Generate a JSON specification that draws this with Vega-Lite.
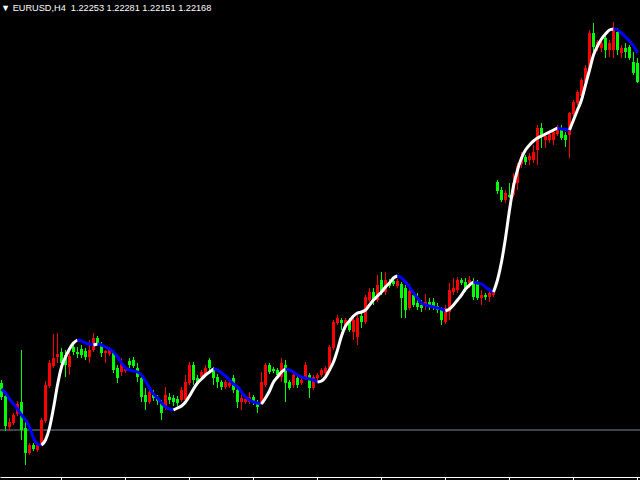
{
  "$schema": "https://vega.github.io/schema/vega-lite/v6.json",
  "width": 640,
  "height": 477,
  "autosize": {"type": "none"},
  "padding": {"left": 0, "right": 0, "top": 0, "bottom": 3},
  "background": "#000000",
  "config": {"view": {"stroke": null}},
  "title": {"text": "▼ EURUSD,H4\u00a0 1.22253 1.22281 1.22151 1.22168", "anchor": "start", "frame": "group", "orient": "top", "offset": -13, "font": "Liberation Sans", "fontSize": 9.2, "fontWeight": "normal", "color": "#FFFFFF", "baseline": "top", "dx": 1},
  "datasets": {
    "lvl": [{"p": 1.1850}],
    "bars": [
      {"i":0,"o":1.1897,"h":1.1900,"l":1.1880,"c":1.1883},
      {"i":1,"o":1.1884,"h":1.1887,"l":1.1849,"c":1.1854},
      {"i":2,"o":1.1853,"h":1.1862,"l":1.1849,"c":1.1858},
      {"i":3,"o":1.1857,"h":1.1867,"l":1.1855,"c":1.1865},
      {"i":4,"o":1.1866,"h":1.1879,"l":1.1864,"c":1.1876},
      {"i":5,"o":1.1878,"h":1.1930,"l":1.1840,"c":1.1850},
      {"i":6,"o":1.1852,"h":1.1862,"l":1.1815,"c":1.1827},
      {"i":7,"o":1.1827,"h":1.1837,"l":1.1825,"c":1.1835},
      {"i":8,"o":1.1835,"h":1.1837,"l":1.1829,"c":1.1831},
      {"i":9,"o":1.1830,"h":1.1837,"l":1.1828,"c":1.1835},
      {"i":10,"o":1.1837,"h":1.1862,"l":1.1834,"c":1.1860},
      {"i":11,"o":1.1859,"h":1.1899,"l":1.1857,"c":1.1895},
      {"i":12,"o":1.1894,"h":1.1920,"l":1.1892,"c":1.1917},
      {"i":13,"o":1.1914,"h":1.1946,"l":1.1912,"c":1.1922},
      {"i":14,"o":1.1923,"h":1.1947,"l":1.1917,"c":1.1926},
      {"i":15,"o":1.1928,"h":1.1932,"l":1.1915,"c":1.1917},
      {"i":16,"o":1.1925,"h":1.1930,"l":1.1903,"c":1.1915},
      {"i":17,"o":1.1913,"h":1.1928,"l":1.1905,"c":1.1924},
      {"i":18,"o":1.1933,"h":1.1936,"l":1.1925,"c":1.1928},
      {"i":19,"o":1.1928,"h":1.1933,"l":1.1922,"c":1.1926},
      {"i":20,"o":1.1931,"h":1.1935,"l":1.1922,"c":1.1925},
      {"i":21,"o":1.1929,"h":1.1932,"l":1.1920,"c":1.1923},
      {"i":22,"o":1.1923,"h":1.1940,"l":1.1917,"c":1.1930},
      {"i":23,"o":1.1930,"h":1.1947,"l":1.1928,"c":1.1942},
      {"i":24,"o":1.1942,"h":1.1944,"l":1.1935,"c":1.1937},
      {"i":25,"o":1.1936,"h":1.1938,"l":1.1923,"c":1.1927},
      {"i":26,"o":1.1927,"h":1.1930,"l":1.1917,"c":1.1929},
      {"i":27,"o":1.1926,"h":1.1933,"l":1.1924,"c":1.1930},
      {"i":28,"o":1.1927,"h":1.1930,"l":1.1907,"c":1.1910},
      {"i":29,"o":1.1912,"h":1.1915,"l":1.1897,"c":1.1902},
      {"i":30,"o":1.1908,"h":1.1922,"l":1.1904,"c":1.1917},
      {"i":31,"o":1.1909,"h":1.1914,"l":1.1907,"c":1.1912},
      {"i":32,"o":1.1919,"h":1.1922,"l":1.1912,"c":1.1915},
      {"i":33,"o":1.1920,"h":1.1923,"l":1.1912,"c":1.1914},
      {"i":34,"o":1.1912,"h":1.1917,"l":1.1898,"c":1.1903},
      {"i":35,"o":1.1902,"h":1.1906,"l":1.1878,"c":1.1883},
      {"i":36,"o":1.1885,"h":1.1892,"l":1.1870,"c":1.1878},
      {"i":37,"o":1.1878,"h":1.1892,"l":1.1876,"c":1.1888},
      {"i":38,"o":1.1887,"h":1.1890,"l":1.1879,"c":1.1882},
      {"i":39,"o":1.1883,"h":1.1885,"l":1.1875,"c":1.1879},
      {"i":40,"o":1.1877,"h":1.1880,"l":1.1860,"c":1.1867},
      {"i":41,"o":1.1872,"h":1.1893,"l":1.1870,"c":1.1885},
      {"i":42,"o":1.1883,"h":1.1887,"l":1.1876,"c":1.1880},
      {"i":43,"o":1.1882,"h":1.1885,"l":1.1874,"c":1.1878},
      {"i":44,"o":1.1881,"h":1.1884,"l":1.1874,"c":1.1877},
      {"i":45,"o":1.1880,"h":1.1893,"l":1.1878,"c":1.1890},
      {"i":46,"o":1.1880,"h":1.1905,"l":1.1878,"c":1.1898},
      {"i":47,"o":1.1897,"h":1.1918,"l":1.1895,"c":1.1915},
      {"i":48,"o":1.1915,"h":1.1918,"l":1.1895,"c":1.1900},
      {"i":49,"o":1.1902,"h":1.1905,"l":1.1895,"c":1.1898},
      {"i":50,"o":1.1903,"h":1.1910,"l":1.1900,"c":1.1908},
      {"i":51,"o":1.1905,"h":1.1915,"l":1.1903,"c":1.1912},
      {"i":52,"o":1.1920,"h":1.1922,"l":1.1908,"c":1.1912},
      {"i":53,"o":1.1910,"h":1.1913,"l":1.1895,"c":1.1902},
      {"i":54,"o":1.1903,"h":1.1906,"l":1.1892,"c":1.1898},
      {"i":55,"o":1.1898,"h":1.1900,"l":1.1890,"c":1.1893},
      {"i":56,"o":1.1893,"h":1.1900,"l":1.1891,"c":1.1898},
      {"i":57,"o":1.1894,"h":1.1899,"l":1.1892,"c":1.1897},
      {"i":58,"o":1.1902,"h":1.1905,"l":1.1887,"c":1.1890},
      {"i":59,"o":1.1890,"h":1.1892,"l":1.1872,"c":1.1878},
      {"i":60,"o":1.1878,"h":1.1888,"l":1.1870,"c":1.1882},
      {"i":61,"o":1.1878,"h":1.1884,"l":1.1876,"c":1.1881},
      {"i":62,"o":1.1878,"h":1.1888,"l":1.1876,"c":1.1883},
      {"i":63,"o":1.1883,"h":1.1885,"l":1.1875,"c":1.1877},
      {"i":64,"o":1.1878,"h":1.1880,"l":1.1867,"c":1.1873},
      {"i":65,"o":1.1877,"h":1.1908,"l":1.1875,"c":1.1898},
      {"i":66,"o":1.1895,"h":1.1917,"l":1.1893,"c":1.1915},
      {"i":67,"o":1.1915,"h":1.1917,"l":1.1906,"c":1.1908},
      {"i":68,"o":1.1911,"h":1.1913,"l":1.1907,"c":1.1909},
      {"i":69,"o":1.1910,"h":1.1912,"l":1.1903,"c":1.1905},
      {"i":70,"o":1.1903,"h":1.1922,"l":1.1898,"c":1.1917},
      {"i":71,"o":1.1915,"h":1.1920,"l":1.1878,"c":1.1897},
      {"i":72,"o":1.1898,"h":1.1900,"l":1.1890,"c":1.1892},
      {"i":73,"o":1.1895,"h":1.1908,"l":1.1892,"c":1.1905},
      {"i":74,"o":1.1902,"h":1.1904,"l":1.1892,"c":1.1895},
      {"i":75,"o":1.1897,"h":1.1902,"l":1.1895,"c":1.1900},
      {"i":76,"o":1.1902,"h":1.1918,"l":1.1900,"c":1.1915},
      {"i":77,"o":1.1905,"h":1.1907,"l":1.1882,"c":1.1892},
      {"i":78,"o":1.1892,"h":1.1905,"l":1.1890,"c":1.1903},
      {"i":79,"o":1.1902,"h":1.1907,"l":1.1900,"c":1.1905},
      {"i":80,"o":1.1905,"h":1.1912,"l":1.1903,"c":1.1910},
      {"i":81,"o":1.1907,"h":1.1914,"l":1.1905,"c":1.1912},
      {"i":82,"o":1.1910,"h":1.1935,"l":1.1908,"c":1.1933},
      {"i":83,"o":1.1932,"h":1.1960,"l":1.1930,"c":1.1958},
      {"i":84,"o":1.1957,"h":1.1965,"l":1.1955,"c":1.1962},
      {"i":85,"o":1.1960,"h":1.1962,"l":1.1950,"c":1.1957},
      {"i":86,"o":1.1955,"h":1.1962,"l":1.1950,"c":1.1960},
      {"i":87,"o":1.1958,"h":1.1962,"l":1.1948,"c":1.1950},
      {"i":88,"o":1.1948,"h":1.1964,"l":1.1940,"c":1.1960},
      {"i":89,"o":1.1943,"h":1.1965,"l":1.1935,"c":1.1962},
      {"i":90,"o":1.1964,"h":1.1967,"l":1.1952,"c":1.1958},
      {"i":91,"o":1.1958,"h":1.1985,"l":1.1956,"c":1.1983},
      {"i":92,"o":1.1980,"h":1.1992,"l":1.1978,"c":1.1988},
      {"i":93,"o":1.1988,"h":1.1992,"l":1.1975,"c":1.1980},
      {"i":94,"o":1.1980,"h":1.2005,"l":1.1978,"c":1.1995},
      {"i":95,"o":1.2000,"h":1.2008,"l":1.1985,"c":1.1988},
      {"i":96,"o":1.1988,"h":1.2008,"l":1.1985,"c":1.2000},
      {"i":97,"o":1.1998,"h":1.2001,"l":1.1992,"c":1.1994},
      {"i":98,"o":1.1999,"h":1.2002,"l":1.1994,"c":1.1996},
      {"i":99,"o":1.1994,"h":1.2001,"l":1.1992,"c":1.1999},
      {"i":100,"o":1.1996,"h":1.1998,"l":1.1962,"c":1.1982},
      {"i":101,"o":1.1992,"h":1.1995,"l":1.1962,"c":1.1970},
      {"i":102,"o":1.1972,"h":1.1996,"l":1.1970,"c":1.1989},
      {"i":103,"o":1.1985,"h":1.1988,"l":1.1973,"c":1.1975},
      {"i":104,"o":1.1977,"h":1.1987,"l":1.1970,"c":1.1973},
      {"i":105,"o":1.1975,"h":1.1980,"l":1.1968,"c":1.1972},
      {"i":106,"o":1.1975,"h":1.1986,"l":1.1970,"c":1.1978},
      {"i":107,"o":1.1978,"h":1.1982,"l":1.1970,"c":1.1975},
      {"i":108,"o":1.1978,"h":1.1982,"l":1.1970,"c":1.1973},
      {"i":109,"o":1.1974,"h":1.1977,"l":1.1967,"c":1.1970},
      {"i":110,"o":1.1970,"h":1.1973,"l":1.1955,"c":1.1960},
      {"i":111,"o":1.1958,"h":1.1975,"l":1.1956,"c":1.1972},
      {"i":112,"o":1.1968,"h":1.1997,"l":1.1960,"c":1.1990},
      {"i":113,"o":1.1988,"h":1.2002,"l":1.1985,"c":1.1992},
      {"i":114,"o":1.1990,"h":1.2003,"l":1.1987,"c":1.2000},
      {"i":115,"o":1.2000,"h":1.2002,"l":1.1995,"c":1.1997},
      {"i":116,"o":1.1998,"h":1.2002,"l":1.1988,"c":1.1992},
      {"i":117,"o":1.1997,"h":1.2004,"l":1.1992,"c":1.2000},
      {"i":118,"o":1.1998,"h":1.2002,"l":1.1980,"c":1.1983},
      {"i":119,"o":1.1997,"h":1.2000,"l":1.1980,"c":1.1982},
      {"i":120,"o":1.1982,"h":1.1990,"l":1.1975,"c":1.1985},
      {"i":121,"o":1.1985,"h":1.1987,"l":1.1980,"c":1.1983},
      {"i":122,"o":1.1983,"h":1.1990,"l":1.1978,"c":1.1987},
      {"i":123,"o":1.1985,"h":1.1990,"l":1.1983,"c":1.1988},
      {"i":124,"o":1.2098,"h":1.2100,"l":1.2086,"c":1.2089},
      {"i":125,"o":1.2090,"h":1.2093,"l":1.2078,"c":1.2080},
      {"i":126,"o":1.2080,"h":1.2090,"l":1.2077,"c":1.2087},
      {"i":127,"o":1.2085,"h":1.2097,"l":1.2082,"c":1.2083},
      {"i":128,"o":1.2085,"h":1.2107,"l":1.2083,"c":1.2097},
      {"i":129,"o":1.2097,"h":1.2117,"l":1.2090,"c":1.2114},
      {"i":130,"o":1.2116,"h":1.2128,"l":1.2112,"c":1.2123},
      {"i":131,"o":1.2123,"h":1.2125,"l":1.2115,"c":1.2118},
      {"i":132,"o":1.2120,"h":1.2127,"l":1.2115,"c":1.2124},
      {"i":133,"o":1.2120,"h":1.2135,"l":1.2117,"c":1.2128},
      {"i":134,"o":1.2130,"h":1.2155,"l":1.2115,"c":1.2152},
      {"i":135,"o":1.2152,"h":1.2157,"l":1.2132,"c":1.2143},
      {"i":136,"o":1.2140,"h":1.2147,"l":1.2132,"c":1.2144},
      {"i":137,"o":1.2140,"h":1.2150,"l":1.2137,"c":1.2146},
      {"i":138,"o":1.2140,"h":1.2150,"l":1.2135,"c":1.2148},
      {"i":139,"o":1.2146,"h":1.2155,"l":1.2144,"c":1.2153},
      {"i":140,"o":1.2152,"h":1.2155,"l":1.2140,"c":1.2142},
      {"i":141,"o":1.2145,"h":1.2148,"l":1.2133,"c":1.2140},
      {"i":142,"o":1.2145,"h":1.2168,"l":1.2122,"c":1.2167},
      {"i":143,"o":1.2166,"h":1.2180,"l":1.2164,"c":1.2178},
      {"i":144,"o":1.2177,"h":1.2190,"l":1.2175,"c":1.2188},
      {"i":145,"o":1.2184,"h":1.2202,"l":1.2182,"c":1.2200},
      {"i":146,"o":1.2198,"h":1.2215,"l":1.2196,"c":1.2212},
      {"i":147,"o":1.2211,"h":1.2250,"l":1.2210,"c":1.2247},
      {"i":148,"o":1.2247,"h":1.2257,"l":1.2225,"c":1.2233},
      {"i":149,"o":1.2233,"h":1.2240,"l":1.2229,"c":1.2238},
      {"i":150,"o":1.2232,"h":1.2239,"l":1.2228,"c":1.2237},
      {"i":151,"o":1.2242,"h":1.2245,"l":1.2222,"c":1.2230},
      {"i":152,"o":1.2230,"h":1.2240,"l":1.2223,"c":1.2237},
      {"i":153,"o":1.2230,"h":1.2258,"l":1.2222,"c":1.2250},
      {"i":154,"o":1.2248,"h":1.2252,"l":1.2225,"c":1.2230},
      {"i":155,"o":1.2227,"h":1.2235,"l":1.2222,"c":1.2232},
      {"i":156,"o":1.2232,"h":1.2237,"l":1.2222,"c":1.2228},
      {"i":157,"o":1.2233,"h":1.2235,"l":1.2220,"c":1.2222},
      {"i":158,"o":1.2218,"h":1.2228,"l":1.2205,"c":1.2207},
      {"i":159,"o":1.2217,"h":1.2222,"l":1.2197,"c":1.2198}
    ],
    "ma": [
      {"i":0,"p":1.1891,"s":1,"d":"dn"},{"i":1,"p":1.1887,"s":1,"d":"dn"},{"i":2,"p":1.1881,"s":1,"d":"dn"},{"i":3,"p":1.1876,"s":1,"d":"dn"},{"i":4,"p":1.1871,"s":1,"d":"dn"},{"i":5,"p":1.1865,"s":1,"d":"dn"},{"i":6,"p":1.1860,"s":1,"d":"dn"},{"i":7,"p":1.1853,"s":1,"d":"dn"},{"i":8,"p":1.1842,"s":1,"d":"dn"},{"i":9,"p":1.1836,"s":1,"d":"dn"},{"i":10,"p":1.1835,"s":1,"d":"dn"},
      {"i":10,"p":1.1835,"s":2,"d":"up"},{"i":11,"p":1.1840,"s":2,"d":"up"},{"i":12,"p":1.1852,"s":2,"d":"up"},{"i":13,"p":1.1872,"s":2,"d":"up"},{"i":14,"p":1.1895,"s":2,"d":"up"},{"i":15,"p":1.1913,"s":2,"d":"up"},{"i":16,"p":1.1923,"s":2,"d":"up"},{"i":17,"p":1.1931,"s":2,"d":"up"},{"i":18,"p":1.1937,"s":2,"d":"up"},{"i":19,"p":1.1940,"s":2,"d":"up"},
      {"i":19,"p":1.1940,"s":3,"d":"dn"},{"i":20,"p":1.1939,"s":3,"d":"dn"},{"i":21,"p":1.1937,"s":3,"d":"dn"},{"i":22,"p":1.1936,"s":3,"d":"dn"},{"i":23,"p":1.1935,"s":3,"d":"dn"},
      {"i":23,"p":1.1935,"s":4,"d":"up"},{"i":24,"p":1.1936,"s":4,"d":"up"},
      {"i":24,"p":1.1936,"s":5,"d":"dn"},{"i":25,"p":1.1935,"s":5,"d":"dn"},{"i":26,"p":1.1933,"s":5,"d":"dn"},{"i":27,"p":1.1931,"s":5,"d":"dn"},{"i":28,"p":1.1928,"s":5,"d":"dn"},{"i":29,"p":1.1923,"s":5,"d":"dn"},{"i":30,"p":1.1917,"s":5,"d":"dn"},{"i":31,"p":1.1912,"s":5,"d":"dn"},{"i":32,"p":1.1910,"s":5,"d":"dn"},{"i":33,"p":1.1909,"s":5,"d":"dn"},{"i":34,"p":1.1908,"s":5,"d":"dn"},{"i":35,"p":1.1905,"s":5,"d":"dn"},{"i":36,"p":1.1899,"s":5,"d":"dn"},{"i":37,"p":1.1892,"s":5,"d":"dn"},{"i":38,"p":1.1886,"s":5,"d":"dn"},{"i":39,"p":1.1882,"s":5,"d":"dn"},{"i":40,"p":1.1877,"s":5,"d":"dn"},{"i":41,"p":1.1873,"s":5,"d":"dn"},{"i":42,"p":1.1871,"s":5,"d":"dn"},{"i":43,"p":1.1870,"s":5,"d":"dn"},
      {"i":43,"p":1.1870,"s":6,"d":"up"},{"i":44,"p":1.1872,"s":6,"d":"up"},{"i":45,"p":1.1874,"s":6,"d":"up"},{"i":46,"p":1.1878,"s":6,"d":"up"},{"i":47,"p":1.1884,"s":6,"d":"up"},{"i":48,"p":1.1891,"s":6,"d":"up"},{"i":49,"p":1.1897,"s":6,"d":"up"},{"i":50,"p":1.1901,"s":6,"d":"up"},{"i":51,"p":1.1905,"s":6,"d":"up"},{"i":52,"p":1.1908,"s":6,"d":"up"},{"i":53,"p":1.1911,"s":6,"d":"up"},
      {"i":53,"p":1.1911,"s":7,"d":"dn"},{"i":54,"p":1.1910,"s":7,"d":"dn"},{"i":55,"p":1.1907,"s":7,"d":"dn"},{"i":56,"p":1.1904,"s":7,"d":"dn"},{"i":57,"p":1.1900,"s":7,"d":"dn"},{"i":58,"p":1.1896,"s":7,"d":"dn"},{"i":59,"p":1.1893,"s":7,"d":"dn"},{"i":60,"p":1.1888,"s":7,"d":"dn"},{"i":61,"p":1.1883,"s":7,"d":"dn"},{"i":62,"p":1.1880,"s":7,"d":"dn"},{"i":63,"p":1.1878,"s":7,"d":"dn"},{"i":64,"p":1.1877,"s":7,"d":"dn"},{"i":65,"p":1.1876,"s":7,"d":"dn"},
      {"i":65,"p":1.1876,"s":8,"d":"up"},{"i":66,"p":1.1882,"s":8,"d":"up"},{"i":67,"p":1.1889,"s":8,"d":"up"},{"i":68,"p":1.1898,"s":8,"d":"up"},{"i":69,"p":1.1903,"s":8,"d":"up"},{"i":70,"p":1.1908,"s":8,"d":"up"},{"i":71,"p":1.1911,"s":8,"d":"up"},
      {"i":71,"p":1.1911,"s":9,"d":"dn"},{"i":72,"p":1.1910,"s":9,"d":"dn"},{"i":73,"p":1.1908,"s":9,"d":"dn"},{"i":74,"p":1.1905,"s":9,"d":"dn"},{"i":75,"p":1.1903,"s":9,"d":"dn"},{"i":76,"p":1.1902,"s":9,"d":"dn"},{"i":77,"p":1.1901,"s":9,"d":"dn"},{"i":78,"p":1.1900,"s":9,"d":"dn"},{"i":79,"p":1.1898,"s":9,"d":"dn"},
      {"i":79,"p":1.1898,"s":10,"d":"up"},{"i":80,"p":1.1899,"s":10,"d":"up"},{"i":81,"p":1.1903,"s":10,"d":"up"},{"i":82,"p":1.1910,"s":10,"d":"up"},{"i":83,"p":1.1918,"s":10,"d":"up"},{"i":84,"p":1.1930,"s":10,"d":"up"},{"i":85,"p":1.1944,"s":10,"d":"up"},{"i":86,"p":1.1954,"s":10,"d":"up"},{"i":87,"p":1.1959,"s":10,"d":"up"},{"i":88,"p":1.1964,"s":10,"d":"up"},{"i":89,"p":1.1967,"s":10,"d":"up"},{"i":90,"p":1.1968,"s":10,"d":"up"},{"i":91,"p":1.1970,"s":10,"d":"up"},{"i":92,"p":1.1975,"s":10,"d":"up"},{"i":93,"p":1.1980,"s":10,"d":"up"},{"i":94,"p":1.1984,"s":10,"d":"up"},{"i":95,"p":1.1988,"s":10,"d":"up"},{"i":96,"p":1.1993,"s":10,"d":"up"},{"i":97,"p":1.1997,"s":10,"d":"up"},{"i":98,"p":1.2002,"s":10,"d":"up"},{"i":99,"p":1.2004,"s":10,"d":"up"},
      {"i":99,"p":1.2004,"s":11,"d":"dn"},{"i":100,"p":1.2002,"s":11,"d":"dn"},{"i":101,"p":1.1998,"s":11,"d":"dn"},{"i":102,"p":1.1993,"s":11,"d":"dn"},{"i":103,"p":1.1987,"s":11,"d":"dn"},{"i":104,"p":1.1982,"s":11,"d":"dn"},{"i":105,"p":1.1977,"s":11,"d":"dn"},{"i":106,"p":1.1975,"s":11,"d":"dn"},{"i":107,"p":1.1974,"s":11,"d":"dn"},{"i":108,"p":1.1973,"s":11,"d":"dn"},{"i":109,"p":1.1972,"s":11,"d":"dn"},{"i":110,"p":1.1971,"s":11,"d":"dn"},{"i":111,"p":1.1969,"s":11,"d":"dn"},
      {"i":111,"p":1.1969,"s":12,"d":"up"},{"i":112,"p":1.1971,"s":12,"d":"up"},{"i":113,"p":1.1975,"s":12,"d":"up"},{"i":114,"p":1.1980,"s":12,"d":"up"},{"i":115,"p":1.1985,"s":12,"d":"up"},{"i":116,"p":1.1991,"s":12,"d":"up"},{"i":117,"p":1.1995,"s":12,"d":"up"},{"i":118,"p":1.1998,"s":12,"d":"up"},
      {"i":118,"p":1.1998,"s":13,"d":"dn"},{"i":119,"p":1.1997,"s":13,"d":"dn"},{"i":120,"p":1.1996,"s":13,"d":"dn"},{"i":121,"p":1.1993,"s":13,"d":"dn"},{"i":122,"p":1.1990,"s":13,"d":"dn"},{"i":123,"p":1.1988,"s":13,"d":"dn"},
      {"i":123,"p":1.1988,"s":14,"d":"up"},{"i":124,"p":1.2000,"s":14,"d":"up"},{"i":125,"p":1.2018,"s":14,"d":"up"},{"i":126,"p":1.2042,"s":14,"d":"up"},{"i":127,"p":1.2070,"s":14,"d":"up"},{"i":128,"p":1.2094,"s":14,"d":"up"},{"i":129,"p":1.2110,"s":14,"d":"up"},{"i":130,"p":1.2122,"s":14,"d":"up"},{"i":131,"p":1.2130,"s":14,"d":"up"},{"i":132,"p":1.2135,"s":14,"d":"up"},{"i":133,"p":1.2139,"s":14,"d":"up"},{"i":134,"p":1.2142,"s":14,"d":"up"},{"i":135,"p":1.2144,"s":14,"d":"up"},{"i":136,"p":1.2146,"s":14,"d":"up"},{"i":137,"p":1.2148,"s":14,"d":"up"},{"i":138,"p":1.2150,"s":14,"d":"up"},{"i":139,"p":1.2152,"s":14,"d":"up"},
      {"i":139,"p":1.2152,"s":15,"d":"dn"},{"i":140,"p":1.2151,"s":15,"d":"dn"},{"i":141,"p":1.21505,"s":15,"d":"dn"},{"i":142,"p":1.2150,"s":15,"d":"dn"},
      {"i":142,"p":1.2150,"s":16,"d":"up"},{"i":143,"p":1.2160,"s":16,"d":"up"},{"i":144,"p":1.2170,"s":16,"d":"up"},{"i":145,"p":1.2180,"s":16,"d":"up"},{"i":146,"p":1.2195,"s":16,"d":"up"},{"i":147,"p":1.2210,"s":16,"d":"up"},{"i":148,"p":1.2225,"s":16,"d":"up"},{"i":149,"p":1.2234,"s":16,"d":"up"},{"i":150,"p":1.2241,"s":16,"d":"up"},{"i":151,"p":1.2246,"s":16,"d":"up"},{"i":152,"p":1.2250,"s":16,"d":"up"},{"i":153,"p":1.2251,"s":16,"d":"up"},
      {"i":153,"p":1.2251,"s":17,"d":"dn"},{"i":154,"p":1.2250,"s":17,"d":"dn"},{"i":155,"p":1.2247,"s":17,"d":"dn"},{"i":156,"p":1.2243,"s":17,"d":"dn"},{"i":157,"p":1.2239,"s":17,"d":"dn"},{"i":158,"p":1.2234,"s":17,"d":"dn"},{"i":159,"p":1.2227,"s":17,"d":"dn"}
    ]
  },
  "layer": [
    {
      "data": {"name": "lvl"},
      "mark": {"type": "rule", "color": "#778899", "strokeWidth": 1},
      "encoding": {
        "y": {"field": "p", "type": "quantitative", "scale": {"domain": [1.1803, 1.2280], "zero": false, "nice": false, "padding": 0}, "axis": null}
      }
    },
    {
      "data": {"name": "bars"},
      "mark": {"type": "rule", "strokeWidth": 1},
      "encoding": {
        "x": {"field": "i", "type": "quantitative", "scale": {"domain": [-0.375, 159.625], "zero": false, "nice": false, "padding": 0},
              "axis": {"values": [14.75, 30.75, 46.75, 62.75, 78.75, 94.75, 110.75, 126.75, 142.75, 158.75], "labels": false, "grid": false, "title": null, "domainColor": "#FFFFFF", "tickColor": "#FFFFFF", "tickSize": 3, "domainWidth": 1, "tickWidth": 1}},
        "y": {"field": "l", "type": "quantitative", "scale": {"domain": [1.1803, 1.2280], "zero": false, "nice": false, "padding": 0}, "axis": null},
        "y2": {"field": "h"},
        "color": {"condition": {"test": "datum.c > datum.o", "value": "#FF0000"}, "value": "#00FF00"}
      }
    },
    {
      "data": {"name": "bars"},
      "mark": {"type": "bar", "size": 3},
      "encoding": {
        "x": {"field": "i", "type": "quantitative", "scale": {"domain": [-0.375, 159.625], "zero": false, "nice": false, "padding": 0}},
        "y": {"field": "o", "type": "quantitative", "scale": {"domain": [1.1803, 1.2280], "zero": false, "nice": false, "padding": 0}, "axis": null},
        "y2": {"field": "c"},
        "color": {"condition": {"test": "datum.c > datum.o", "value": "#FF0000"}, "value": "#00FF00"}
      }
    },
    {
      "data": {"name": "ma"},
      "mark": {"type": "line", "strokeWidth": 3, "interpolate": "monotone", "strokeJoin": "round"},
      "encoding": {
        "x": {"field": "i", "type": "quantitative", "scale": {"domain": [-0.375, 159.625], "zero": false, "nice": false, "padding": 0}},
        "y": {"field": "p", "type": "quantitative", "scale": {"domain": [1.1803, 1.2280], "zero": false, "nice": false, "padding": 0}, "axis": null},
        "detail": {"field": "s", "type": "nominal"},
        "color": {"field": "d", "type": "nominal", "scale": {"domain": ["dn", "up"], "range": ["#0000FF", "#FFFFFF"]}, "legend": null}
      }
    }
  ]
}
